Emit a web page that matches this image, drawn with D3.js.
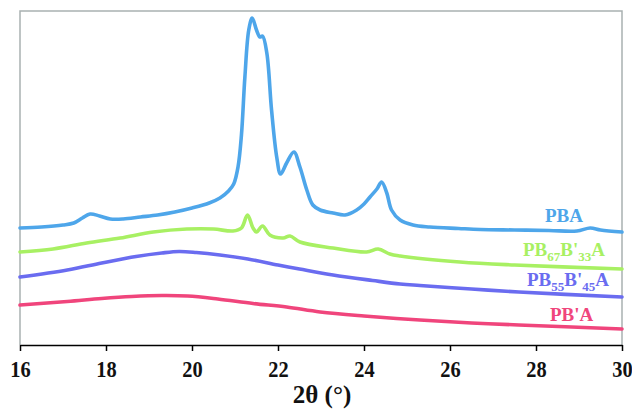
<!DOCTYPE html>
<html>
<head>
<meta charset="utf-8">
<script src="https://cdn.jsdelivr.net/npm/d3@7"></script>
<style>
  html, body { margin: 0; padding: 0; background: #fff; }
  svg { display: block; }
  text { font-family: "Liberation Serif", "Times New Roman", serif; font-weight: bold; }
</style>
</head>
<body>
<svg id="chart" width="632" height="410"></svg>
<script>
// ---- data (2θ in degrees, intensity in arbitrary units, curves offset as in the figure) ----
const xTicks = [16, 18, 20, 22, 24, 26, 28, 30];

const pbaTheta = [16, 16.5, 17.0, 17.25, 17.45, 17.63, 17.85, 18.1, 18.4, 18.8, 19.2, 19.6, 20.0, 20.4, 20.65, 20.85, 20.97, 21.07, 21.15, 21.23, 21.32, 21.40, 21.5, 21.58, 21.64, 21.74, 21.85, 21.97, 22.06, 22.2, 22.37, 22.51, 22.67, 22.81, 22.98, 23.28, 23.56, 23.83, 24.0, 24.14, 24.3, 24.41, 24.53, 24.64, 24.84, 25.14, 25.53, 26.2, 26.7, 27.5, 28.3, 28.95, 29.26, 29.5, 30];
const pbaInt   = [117, 118, 120, 122, 127, 131, 129, 126, 126, 128, 130, 133, 137, 142, 147, 154, 161, 178, 210, 268, 315, 327, 315, 308, 309, 292, 235, 188, 171, 182, 193, 178, 155, 140, 135, 132, 130, 135, 141, 148, 156, 163, 152, 135, 125, 120, 118, 116.5, 115.5, 115, 114.5, 114, 117, 115, 113];

const pb67Theta = [16, 16.77, 17.55, 18.33, 19.1, 19.88, 20.5, 20.95, 21.15, 21.29, 21.42, 21.5, 21.64, 21.81, 22.12, 22.28, 22.51, 23.28, 24.06, 24.33, 24.6, 24.84, 26.23, 27.5, 30];
const pb67Int   = [93, 96, 102, 107, 113, 116, 116, 114, 117, 130, 117, 113, 119, 110, 107, 109, 103, 97, 93, 96, 91, 89, 83, 80, 76];

const pb55Theta = [16, 17.1, 17.9, 18.7, 19.3, 19.7, 20.1, 20.65, 21.3, 22.0, 22.5, 23.28, 24.2, 24.84, 25.3, 26.5, 27.6, 30];
const pb55Int   = [68, 75, 82, 88.5, 92, 93.5, 92.5, 90, 86, 80, 76, 70, 64.5, 61, 59.5, 56, 53, 48];

const pbpTheta = [16, 17.1, 17.9, 18.6, 19.3, 19.9, 20.6, 21.42, 22.2, 22.98, 24.0, 25.3, 26.5, 27.6, 30];
const pbpInt   = [40, 43.5, 46.5, 48.5, 49.5, 49, 46, 41.5, 38, 33, 29, 25, 22, 20, 16];

const seriesNames  = ["PBA", "PB67B'33A", "PB55B'45A", "PB'A"];
const seriesColors = ["#4ea6ea", "#a8f063", "#6a6cf0", "#f0457c"];

// ---- layout ----
const W = 632, H = 410;
const m = { left: 20, right: 10, top: 11, bottom: 65 };
const svg = d3.select("#chart");

const x = d3.scaleLinear().domain([16, 30]).range([m.left, W - m.right]);
const y = d3.scaleLinear().domain([0, 334]).range([H - m.bottom, m.top]);

// frame (gray) top/left/right
svg.append("path")
  .attr("d", `M${x(16)},${y(0)}V${y(334)}H${x(30)}V${y(0)}`)
  .attr("fill", "none").attr("stroke", "#a9b1b1").attr("stroke-width", 1.5);

const series = [
  { theta: pbaTheta,  vals: pbaInt },
  { theta: pb67Theta, vals: pb67Int },
  { theta: pb55Theta, vals: pb55Int },
  { theta: pbpTheta,  vals: pbpInt }
];

const line = d3.line().x(d => x(d[0])).y(d => y(d[1])).curve(d3.curveCatmullRom.alpha(0.5));

series.forEach((s, i) => {
  const pts = s.theta.map((t, k) => [t, s.vals[k]]);
  svg.append("path")
    .datum(pts)
    .attr("d", line)
    .attr("fill", "none")
    .attr("stroke", seriesColors[i])
    .attr("stroke-width", 3.6)
    .attr("stroke-linejoin", "round")
    .attr("stroke-linecap", "round");
});

// x axis
const xAxis = d3.axisBottom(x).tickValues(xTicks).tickSize(6).tickSizeOuter(0).tickPadding(9).tickFormat(d3.format("d"));
const gx = svg.append("g").attr("transform", `translate(0,${y(0)})`).call(xAxis);
gx.select(".domain").attr("stroke", "#000").attr("stroke-width", 1.5);
gx.selectAll(".tick line").attr("stroke", "#000").attr("stroke-width", 1.5);
gx.selectAll(".tick text")
  .attr("fill", "#111")
  .attr("transform", "scale(0.85,1)")
  .style("font-family", '"Liberation Serif", serif')
  .style("font-weight", "bold")
  .style("font-size", "24px");

// axis title
svg.append("text")
  .attr("x", (x(16) + x(30)) / 2 + 1)
  .attr("y", 403)
  .attr("text-anchor", "middle")
  .attr("fill", "#111")
  .style("font-size", "25px")
  .text("2θ (°)");

// series labels
const labelPos = [[545, 222], [523, 256], [527, 286], [550, 321]];
function addLabel(i, parts) {
  const t = svg.append("text")
    .attr("x", labelPos[i][0]).attr("y", labelPos[i][1])
    .attr("fill", seriesColors[i])
    .style("font-size", "19px");
  parts.forEach(p => {
    if (p.sub) {
      t.append("tspan").attr("dy", 5).style("font-size", "13px").text(p.t);
    } else {
      t.append("tspan").attr("dy", p.back ? -5 : 0).text(p.t);
    }
  });
}
addLabel(0, [{ t: "PBA" }]);
addLabel(1, [{ t: "PB" }, { t: "67", sub: true }, { t: "B'", back: true }, { t: "33", sub: true }, { t: "A", back: true }]);
addLabel(2, [{ t: "PB" }, { t: "55", sub: true }, { t: "B'", back: true }, { t: "45", sub: true }, { t: "A", back: true }]);
addLabel(3, [{ t: "PB'A" }]);
</script>
</body>
</html>
